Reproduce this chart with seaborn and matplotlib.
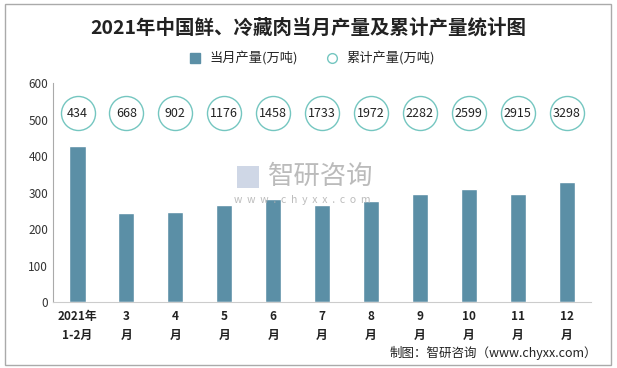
import pandas as pd
import numpy as np
import matplotlib.pyplot as plt
import seaborn as sns
from matplotlib.lines import Line2D
from matplotlib.patches import Rectangle

# ---------------------------------
# Data
# ---------------------------------

months = ["2021年\n1-2月", "3\n月", "4\n月", "5\n月", "6\n月", "7\n月",
          "8\n月", "9\n月", "10\n月", "11\n月", "12\n月"]
monthly = [429, 245, 248, 267, 282, 267, 278, 297, 311, 297, 328]
cumulative = [434, 668, 902, 1176, 1458, 1733, 1972, 2282, 2599, 2915, 3298]
circle_level = 517

df = pd.DataFrame({"month": months, "monthly": monthly, "cumulative": cumulative})

# ---------------------------------
# Style
# ---------------------------------

sns.set_style("white")
plt.rcParams['font.family'] = ['Noto Sans CJK SC', 'DejaVu Sans']

bar_color = "#5b8fa6"
ring_color = "#74c6c0"

fig = plt.figure(figsize=(6.17, 3.68), dpi=100)
ax = fig.add_axes([0.086, 0.179, 0.872, 0.595])

sns.barplot(data=df, x="month", y="monthly", color=bar_color,
            width=0.33, saturation=1, ax=ax)

x = np.arange(len(months))
sns.scatterplot(x=x, y=[circle_level] * len(x), marker="o", s=600,
                facecolor="white", edgecolor=ring_color, linewidth=1.0,
                ax=ax, zorder=3)
for xi, c in zip(x, cumulative):
    ax.text(xi, circle_level, str(c), ha="center", va="center",
            fontsize=9, color="#222222", zorder=4)

ax.set_ylim(0, 600)
ax.set_xlim(-0.5, len(months) - 0.5)
ax.set_yticks(range(0, 601, 100))
ax.set_xlabel("")
ax.set_ylabel("")
ax.tick_params(axis="y", length=0, labelsize=8.5, colors="#333333")
ax.tick_params(axis="x", which="major", length=0, labelsize=8.5, pad=6)
for lbl in ax.get_xticklabels():
    lbl.set_fontweight("bold")
    lbl.set_color("#222222")
    lbl.set_linespacing(1.5)
ax.set_xticks(np.arange(-0.5, len(months)), minor=True)
ax.tick_params(axis="x", which="minor", length=4, color="#cccccc", width=0.8)

for s in ["top", "right"]:
    ax.spines[s].set_visible(False)
ax.spines["left"].set_color("#aaaaaa")
ax.spines["bottom"].set_color("#cccccc")

# ---------------------------------
# Title, legend, notes
# ---------------------------------

fig.text(0.5, 0.925, "2021年中国鲜、冷藏肉当月产量及累计产量统计图",
         ha="center", va="center", fontsize=14, fontweight="bold", color="#222222")

handles = [
    Line2D([], [], marker="s", linestyle="", markersize=7,
           markerfacecolor=bar_color, markeredgecolor=bar_color),
    Line2D([], [], marker="o", linestyle="", markersize=7,
           markerfacecolor="white", markeredgecolor=ring_color),
]
fig.legend(handles, ["当月产量(万吨)", "累计产量(万吨)"], loc="center",
           bbox_to_anchor=(0.5, 0.842), ncol=2, frameon=False, fontsize=9.5,
           handletextpad=0.1, columnspacing=1.6)

# watermark
fig.text(0.52, 0.52, "智研咨询", ha="center", va="center", fontsize=19,
         color="#b0b0b0", alpha=0.85, zorder=0)
fig.patches.append(Rectangle((0.384, 0.49), 0.036, 0.06, transform=fig.transFigure,
                             facecolor="#c3cde0", edgecolor="none", alpha=0.8, zorder=0))
fig.text(0.49, 0.457, "w  w  w  .  c  h  y  x  x  .  c  o  m", ha="center",
         va="center", fontsize=7.5, color="#b0b0b0", alpha=0.85, zorder=0)

fig.text(0.968, 0.04, "制图：智研咨询（www.chyxx.com）", ha="right", va="center",
         fontsize=9, color="#222222")

fig.patches.append(Rectangle((0.008, 0.008), 0.982, 0.98, transform=fig.transFigure,
                             fill=False, edgecolor="#aaaaaa", linewidth=1.0))

fig.savefig("out.png", dpi=100)
